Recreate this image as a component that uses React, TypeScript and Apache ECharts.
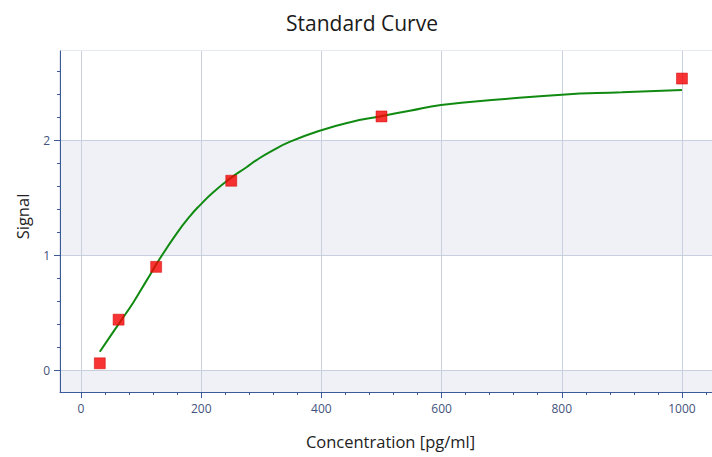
import React, { useEffect, useRef } from "react";
import * as echarts from "echarts";

const standardConc = [31.25, 62.5, 125, 250, 500, 1000];
const standardSignal = [0.06, 0.44, 0.9, 1.65, 2.21, 2.54];

const curveConc = [31.25, 48, 65, 87, 109, 131, 159, 181, 198.5, 220, 248, 276, 292, 314, 348, 400, 448, 497, 547, 599, 700, 800, 900, 1000];
const curveSignal = [0.16, 0.29, 0.42, 0.59, 0.78, 0.97, 1.19, 1.34, 1.44, 1.55, 1.67, 1.77, 1.83, 1.9, 1.99, 2.09, 2.16, 2.21, 2.26, 2.31, 2.36, 2.4, 2.42, 2.44];

const xMajorTicks = [0, 200, 400, 600, 800, 1000];
const xMinorTicks = [40, 80, 120, 160, 240, 280, 320, 360, 440, 480, 520, 560, 640, 680, 720, 760, 840, 880, 920, 960, 1040];
const yMajorTicks = [0, 1, 2];
const yMinorTicks = [0.2, 0.4, 0.6, 0.8, 1.2, 1.4, 1.6, 1.8, 2.2, 2.4, 2.6];

const X_MIN = -35;
const X_MAX = 1050;
const Y_MIN = -0.19;
const Y_MAX = 2.78;

const FONT = "'Open Sans', 'Noto Sans', sans-serif";
const AXIS_COLOR = "#3a5a98";
const LABEL_COLOR = "#42537d";
const GRID_COLOR = "#c8d0df";

export default function App() {
  const ref = useRef<HTMLDivElement>(null);

  useEffect(() => {
    if (!ref.current) return;
    const chart = echarts.init(ref.current, null, { renderer: "svg" });
    const hidden = {
      axisLine: { show: false, onZero: false },
      axisTick: { show: false },
      axisLabel: { show: false },
      splitLine: { show: false },
    };
    const plain = (v: number) => String(v);
    const option: any = {
      animation: false,
      backgroundColor: "#ffffff",
      textStyle: { fontFamily: FONT },
      title: {
        text: "Standard Curve",
        left: 281,
        top: 7,
        textStyle: { fontFamily: FONT, fontSize: 21, fontWeight: "normal", color: "#1a1a1a" },
      },
      grid: {
        left: 60,
        right: 0,
        top: 51,
        bottom: 65,
        containLabel: false,
        show: true,
        borderColor: GRID_COLOR,
        borderWidth: 1,
        backgroundColor: "transparent",
      },
      xAxis: [
        {
          type: "value",
          min: X_MIN,
          max: X_MAX,
          splitNumber: 5,
          name: "Concentration [pg/ml]",
          nameLocation: "middle",
          nameGap: 41,
          nameTextStyle: { fontFamily: FONT, fontSize: 16.5, color: "#222222", padding: [0, 0, 0, 9] },
          axisLine: { show: true, onZero: false, lineStyle: { color: AXIS_COLOR, width: 1 } },
          axisTick: { show: true, length: 6, customValues: xMajorTicks, lineStyle: { color: AXIS_COLOR } },
          axisLabel: {
            customValues: xMajorTicks,
            formatter: plain,
            color: LABEL_COLOR,
            fontSize: 12,
            fontFamily: FONT,
            margin: 10,
          },
          splitLine: { show: true, lineStyle: { color: GRID_COLOR, width: 1 } },
          z: 3,
        },
        {
          type: "value",
          position: "bottom",
          min: X_MIN,
          max: X_MAX,
          axisLine: { show: false, onZero: false },
          axisTick: { show: true, length: 3, customValues: xMinorTicks, lineStyle: { color: AXIS_COLOR } },
          axisLabel: { show: false },
          splitLine: { show: false },
          z: 3,
        },
      ],
      yAxis: [
        {
          type: "value",
          min: Y_MIN,
          max: Y_MAX,
          splitNumber: 3,
          name: "Signal",
          nameLocation: "middle",
          nameGap: 29,
          nameRotate: 90,
          nameTextStyle: { fontFamily: FONT, fontSize: 16.5, color: "#222222", padding: [0, 0, 0, 10] },
          axisLine: { show: true, onZero: false, lineStyle: { color: AXIS_COLOR, width: 1 } },
          axisTick: { show: true, length: 6, customValues: yMajorTicks, lineStyle: { color: AXIS_COLOR } },
          axisLabel: {
            customValues: yMajorTicks,
            formatter: plain,
            color: LABEL_COLOR,
            fontSize: 12,
            fontFamily: FONT,
            margin: 10,
          },
          splitLine: { show: true, lineStyle: { color: GRID_COLOR, width: 1 } },
          splitArea: { show: false },
          z: 3,
        },
        {
          type: "value",
          position: "left",
          min: Y_MIN,
          max: Y_MAX,
          axisLine: { show: false, onZero: false },
          axisTick: { show: true, length: 3, customValues: yMinorTicks, lineStyle: { color: AXIS_COLOR } },
          axisLabel: { show: false },
          splitLine: { show: false },
          z: 3,
        },
        {
          type: "value",
          position: "left",
          min: Y_MIN,
          max: Y_MAX,
          splitNumber: 3,
          ...hidden,
          splitArea: { show: true, areaStyle: { color: ["#eff1f6", "#ffffff"] } },
          z: 0,
        },
      ],
      series: [
        {
          type: "line",
          xAxisIndex: 0,
          yAxisIndex: 0,
          data: curveConc.map((c, i) => [c, curveSignal[i]]),
          smooth: 0.5,
          showSymbol: false,
          symbol: "none",
          lineStyle: { color: "#118a11", width: 2 },
          z: 4,
        },
        {
          type: "scatter",
          xAxisIndex: 0,
          yAxisIndex: 0,
          data: standardConc.map((c, i) => [c, standardSignal[i]]),
          symbol: "rect",
          symbolSize: 11,
          itemStyle: { color: "#f50000", borderColor: "#cc0000", borderWidth: 0.6 },
          z: 5,
        },
      ],
    };
    chart.setOption(option);
    return () => chart.dispose();
  }, []);

  return (
    <div
      ref={ref}
      style={{ position: "absolute", left: 0, top: 0, width: 712, height: 457 }}
    />
  );
}
